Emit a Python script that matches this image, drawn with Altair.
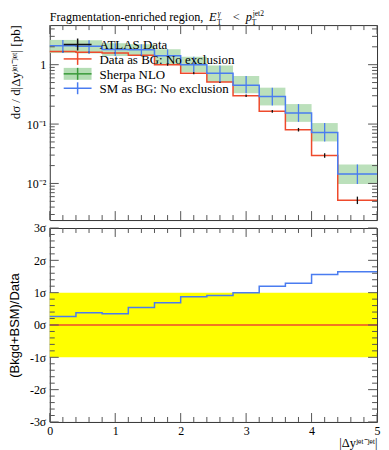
import altair as alt
import pandas as pd
import numpy as np

# ---------------- data ----------------
edges = [0.0, 0.4, 0.8, 1.2, 1.6, 2.0, 2.4, 2.8, 3.2, 3.6, 4.0, 4.4, 5.0]
data_val = [1.66, 1.62, 1.58, 1.44, 1.00, 0.72, 0.51, 0.300, 0.164, 0.080, 0.0296, 0.0052]
data_lo = [1.60, 1.56, 1.52, 1.39, 0.96, 0.69, 0.49, 0.285, 0.155, 0.075, 0.0272, 0.0045]
data_hi = [1.72, 1.68, 1.64, 1.49, 1.04, 0.75, 0.53, 0.315, 0.173, 0.086, 0.0322, 0.0060]
sm_val = [2.08, 2.05, 1.80, 1.78, 1.42, 1.00, 0.72, 0.45, 0.29, 0.154, 0.072, 0.0144]
sherpa_lo = [1.57, 1.55, 1.40, 1.42, 1.03, 0.75, 0.51, 0.33, 0.206, 0.109, 0.051, 0.0098]
sherpa_hi = [2.61, 2.58, 2.30, 2.21, 1.82, 1.36, 0.97, 0.645, 0.41, 0.217, 0.104, 0.0209]
sig_val = [0.26, 0.38, 0.35, 0.54, 0.69, 0.87, 0.91, 1.00, 1.20, 1.29, 1.56, 1.65]
band_sigma = [-1.0, 1.0]

legend_labels = ["ATLAS Data", "Data as BG: No exclusion", "Sherpa NLO", "SM as BG: No exclusion"]
upper_ytitle = "dσ / d|Δyʲᵉᵗ⁻ʲᵉᵗ| [pb]"

# ---------------- styling ----------------
W, H1, H2 = 329, 196, 195
RED = "#ee4a2c"
BLUE = "#4a7cf0"
GREEN = "#b4ddb4"
DKGREEN = "#3a9a3a"
BLACK = "#111111"
TICK = "#555555"
SERIF = "Liberation Serif"

lo = edges[:-1]
hi = edges[1:]
ctr = [(a + b) / 2 for a, b in zip(lo, hi)]

bins = pd.DataFrame({
    "lo": lo, "hi": hi, "c": ctr,
    "d": data_val, "dlo": data_lo, "dhi": data_hi,
    "sm": sm_val, "slo": sherpa_lo, "shi": sherpa_hi, "sig": sig_val,
})
steps = pd.DataFrame({
    "x": edges,
    "d": data_val + [data_val[-1]],
    "sm": sm_val + [sm_val[-1]],
    "sig": sig_val + [sig_val[-1]],
})

XSC = alt.Scale(domain=[0, 5], nice=False, zero=False)
YSC1 = alt.Scale(type="log", domain=[0.00242, 4.64], nice=False)
YSC2 = alt.Scale(domain=[-3, 3], nice=False, zero=False)


def X1(f):
    return alt.X(f, type="quantitative", scale=XSC, axis=None)


def Y1(f):
    return alt.Y(f, type="quantitative", scale=YSC1,
                 axis=alt.Axis(values=[0.01, 0.1, 1],
                               labelExpr="datum.value >= 0.9 ? '1' : (datum.value >= 0.09 ? '10⁻¹' : '10⁻²')",
                               title="",
                               labelFont=SERIF, labelFontSize=12, labelPadding=4,
                               minExtent=22, maxExtent=22,
                               ticks=False, domain=False, grid=False))


def X2(f):
    return alt.X(f, type="quantitative", scale=XSC,
                 axis=alt.Axis(values=[0, 1, 2, 3, 4, 5], format="d",
                               title="|Δyʲᵉᵗ⁻ʲᵉᵗ|", titleAnchor="end",
                               titleFont=SERIF, titleFontSize=12.5, titleFontWeight="normal",
                               labelFont=SERIF, labelFontSize=12, labelPadding=4,
                               titlePadding=0, ticks=False, domain=False, grid=False,
                               labelFlush=False))


def Y2(f):
    return alt.Y(f, type="quantitative", scale=YSC2,
                 axis=alt.Axis(values=[-3, -2, -1, 0, 1, 2, 3],
                               labelExpr="datum.value + 'σ'",
                               title="(Bkgd+BSM)/Data",
                               titleFont="Liberation Sans", titleFontSize=13, titleFontWeight="normal",
                               labelFont=SERIF, labelFontSize=12, labelPadding=4,
                               minExtent=22, maxExtent=22, titlePadding=6,
                               ticks=False, domain=False, grid=False))


def tick_layers(Xf, Yf, xmaj, xmin, ymaj, ymin, Hh):
    out = []
    for vals, ln in ((xmaj, 9), (xmin, 5)):
        df = pd.DataFrame({"t": vals})
        out.append(alt.Chart(df).mark_rule(color=TICK, strokeWidth=1).encode(
            x=Xf("t"), y=alt.value(0), y2=alt.value(ln)))
        out.append(alt.Chart(df).mark_rule(color=TICK, strokeWidth=1).encode(
            x=Xf("t"), y=alt.value(Hh), y2=alt.value(Hh - ln)))
    for vals, ln in ((ymaj, 9), (ymin, 5)):
        df = pd.DataFrame({"t": vals})
        out.append(alt.Chart(df).mark_rule(color=TICK, strokeWidth=1).encode(
            y=Yf("t"), x=alt.value(0), x2=alt.value(ln)))
        out.append(alt.Chart(df).mark_rule(color=TICK, strokeWidth=1).encode(
            y=Yf("t"), x=alt.value(W), x2=alt.value(W - ln)))
    return out


x_major = [0, 1, 2, 3, 4, 5]
x_minor = [0.2, 0.4, 0.6, 0.8, 1.2, 1.4, 1.6, 1.8, 2.2, 2.4, 2.6, 2.8,
           3.2, 3.4, 3.6, 3.8, 4.2, 4.4, 4.6, 4.8]
y1_major = [0.01, 0.1, 1]
y1_minor = [0.003, 0.004, 0.005, 0.006, 0.007, 0.008, 0.009,
            0.02, 0.03, 0.04, 0.05, 0.06, 0.07, 0.08, 0.09,
            0.2, 0.3, 0.4, 0.5, 0.6, 0.7, 0.8, 0.9, 2, 3, 4]
y2_major = [-3, -2, -1, 0, 1, 2, 3]
y2_minor = [v / 5 for v in range(-15, 16) if v % 5 != 0]

# ---------------- upper panel ----------------
band = alt.Chart(bins).mark_rect(color=GREEN, opacity=0.9).encode(
    x=X1("lo"), x2="hi", y=Y1("slo"), y2="shi")
red_step = alt.Chart(steps).mark_line(color=RED, strokeWidth=1.5, interpolate="step-after").encode(
    x=X1("x"), y=Y1("d"))
data_err = alt.Chart(bins).mark_rule(color=BLACK, strokeWidth=1.3).encode(
    x=X1("c"), y=Y1("dlo"), y2="dhi")
blue_step = alt.Chart(steps).mark_line(color=BLUE, strokeWidth=1.5, interpolate="step-after").encode(
    x=X1("x"), y=Y1("sm"))
blue_err = alt.Chart(bins).mark_rule(color=BLUE, strokeWidth=1.3).encode(
    x=X1("c"), y=Y1("slo"), y2="shi")

one = pd.DataFrame({"k": [0]})
leg = []
row_y = [19.5, 34, 49, 63.5]
sym_x0, sym_x1, sym_c, txt_x = 14, 42, 28, 50
colors = [BLACK, RED, DKGREEN, BLUE]
for i, lab in enumerate(legend_labels):
    yy = row_y[i]
    if i == 2:
        leg.append(alt.Chart(one).mark_rect(color=GREEN).encode(
            x=alt.value(sym_x0), x2=alt.value(sym_x1), y=alt.value(yy - 6), y2=alt.value(yy + 6)))
    leg.append(alt.Chart(one).mark_rule(color=colors[i], strokeWidth=1.5).encode(
        x=alt.value(sym_x0), x2=alt.value(sym_x1), y=alt.value(yy)))
    leg.append(alt.Chart(one).mark_rule(color=colors[i], strokeWidth=1.5).encode(
        x=alt.value(sym_c), y=alt.value(yy - 6), y2=alt.value(yy + 6)))
    leg.append(alt.Chart(one).mark_text(text=lab, font=SERIF, fontSize=13, align="left",
                                        baseline="middle", color="#000").encode(
        x=alt.value(txt_x), y=alt.value(yy + 1)))

title_parts = [
    ("Fragmentation-enriched region,", 0, -4.5, 12.2, "normal"),
    ("E", 160, -4.5, 12.5, "italic"),
    ("γ", 169, -9, 7.5, "italic"),
    ("T", 168, -0.5, 7.5, "normal"),
    ("<", 184, -4.5, 12.5, "normal"),
    ("p", 197, -4.5, 12.5, "italic"),
    ("jet2", 204, -9, 7.5, "normal"),
    ("T", 203, -0.5, 7.5, "normal"),
]
ttl = []
for txt, px, py, fs, sty in title_parts:
    ttl.append(alt.Chart(one).mark_text(text=txt, font=SERIF, fontSize=fs, fontStyle=sty,
                                        align="left", baseline="alphabetic", color="#000").encode(
        x=alt.value(px), y=alt.value(py)))

ytitle_up = alt.Chart(one).mark_text(text=upper_ytitle, font=SERIF, fontSize=13, angle=270,
                                     align="right", baseline="middle", color="#000").encode(
    x=alt.value(-34), y=alt.value(0))

upper = alt.layer(
    band, red_step, data_err, blue_step, blue_err,
    *tick_layers(X1, Y1, x_major, x_minor, y1_major, y1_minor, H1),
    *leg, *ttl, ytitle_up,
).properties(width=W, height=H1)

# ---------------- lower panel ----------------
band_df = pd.DataFrame({"x0": [0.0], "x1": [5.0], "b0": [band_sigma[0]], "b1": [band_sigma[1]], "z": [0.0]})
yellow = alt.Chart(band_df).mark_rect(color="#ffff00").encode(
    x=X2("x0"), x2="x1", y=Y2("b0"), y2="b1")
zero_line = alt.Chart(band_df).mark_rule(color=RED, strokeWidth=1.5).encode(
    x=X2("x0"), x2="x1", y=Y2("z"))
sig_step = alt.Chart(steps).mark_line(color=BLUE, strokeWidth=1.5, interpolate="step-after").encode(
    x=X2("x"), y=Y2("sig"))

lower = alt.layer(
    yellow, zero_line, sig_step,
    *tick_layers(X2, Y2, x_major, x_minor, y2_major, y2_minor, H2),
).properties(width=W, height=H2)

chart = alt.vconcat(upper, lower, spacing=0).properties(
    padding=0
).configure_view(
    stroke="#333333", strokeWidth=1
).configure_axis(labelColor="#000", titleColor="#000")

chart.save("out.html", embed_options={"renderer": "svg", "actions": False})
